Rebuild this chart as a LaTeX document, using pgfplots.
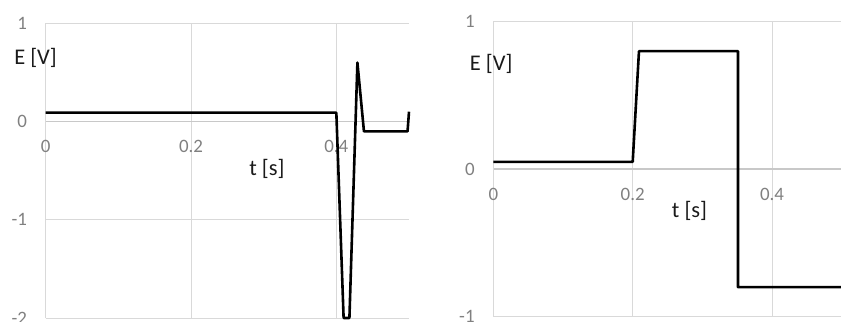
\documentclass[border=0pt]{standalone}
\usepackage{pgfplots}
\pgfplotsset{compat=1.18}
\usepackage{fontspec}
\setmainfont{Carlito}
\definecolor{gridc}{HTML}{D9D9D9}
\definecolor{axc}{HTML}{C8C8C8}
\definecolor{tickc}{HTML}{808080}
\definecolor{titlec}{HTML}{1A1A1A}
\pgfplotsset{
  excel/.style={
    scale only axis,
    anchor=south west,
    clip=false,
    axis x line=middle,
    axis y line=left,
    axis line style={-, draw=axc, line width=1.5bp},
    x axis line style={draw=axc, line width=1.6bp},
    y axis line style={draw=gridc, line width=1bp},
    grid=major,
    major grid style={draw=gridc, line width=1bp},
    major tick length=0pt,
    hide obscured x ticks=false,
    hide obscured y ticks=false,
    xmin=0, xmax=0.5,
    xtick={0,0.2,0.4},
    xticklabels={0,0.2,0.4},
    tick label style={font=\fontsize{19}{22}\selectfont, text=tickc},
    xticklabel style={anchor=center, inner sep=0pt, yshift=-25bp},
    yticklabel style={anchor=east, inner sep=0pt, xshift=-18.5bp},
    label style={font=\fontsize{22.5}{26}\selectfont, text=titlec},
    xlabel={t [s]},
    ylabel={E [V]},
  },
}
\begin{document}
\begin{tikzpicture}
\useasboundingbox (0,0) rectangle (841bp,322bp);
\begin{axis}[excel,
  at={(45.7bp,4bp)}, width=363.3bp, height=294.7bp,
  ymin=-2, ymax=1,
  ytick={-2,-1,0,1}, yticklabels={-2,-1,0,1},
  x label style={at={(axis description cs:0.609,0.506)}, anchor=center},
  y label style={at={(axis description cs:-0.028,0.882)}, anchor=center, rotate=-90},
]
\addplot[black, line width=2.6bp, line join=round] coordinates {
(0,0.09) (0.4,0.09) (0.41,-2) (0.418,-2) (0.429,0.6) (0.438,-0.1) (0.498,-0.1) (0.5,0.1)
};
\end{axis}
\begin{axis}[excel,
  at={(493.3bp,5.3bp)}, width=348.5bp, height=295bp,
  ymin=-1, ymax=1,
  ytick={-1,0,1}, yticklabels={-1,0,1},
  x label style={at={(axis description cs:0.563,0.358)}, anchor=center},
  y label style={at={(axis description cs:-0.006,0.857)}, anchor=center, rotate=-90},
]
\addplot[black, line width=2.6bp, line join=round] coordinates {
(0,0.05) (0.2,0.05) (0.209,0.8) (0.351,0.8) (0.351,-0.8) (0.5,-0.8)
};
\end{axis}
\end{tikzpicture}
\end{document}
